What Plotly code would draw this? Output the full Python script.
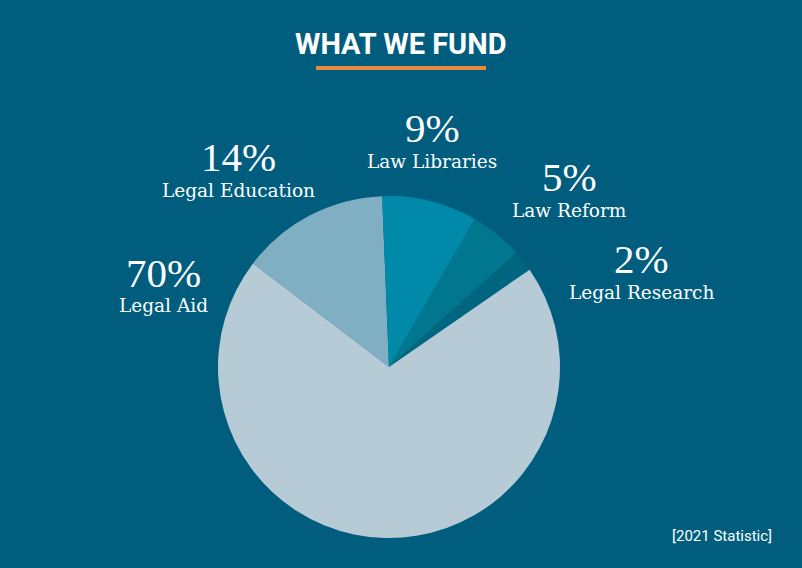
import plotly.graph_objects as go

categories = ["Legal Education", "Law Libraries", "Law Reform", "Legal Research", "Legal Aid"]
values = [14, 9, 5, 2, 70]
colors = ["#80afc3", "#0089a8", "#00778f", "#00667f", "#b6cbd6"]
pct_labels = ["14%", "9%", "5%", "2%", "70%"]
# label anchor points (pixels) for each category
label_x = [239, 432, 569, 641, 163]
label_y = [157, 128, 177, 259, 273]

W, H = 802, 568
BG = "#005d7e"

fig = go.Figure()
fig.add_trace(go.Pie(
    labels=categories, values=values, sort=False, direction="clockwise",
    rotation=-52.7, marker=dict(colors=colors, line=dict(width=0)),
    textinfo="none", hoverinfo="label+percent", showlegend=False,
    domain=dict(x=[(389 - 171) / W, (389 + 171) / W], y=[1 - 538 / H, 1 - 196 / H]),
))

ann = []
for cat, p, x, y in zip(categories, pct_labels, label_x, label_y):
    ann.append(dict(x=x / W, y=1 - y / H, xref="paper", yref="paper", text=p,
                    showarrow=False, xanchor="center", yanchor="middle",
                    font=dict(family="Liberation Serif", size=41, color="white")))
    ann.append(dict(x=x / W, y=1 - (y + 33) / H, xref="paper", yref="paper", text=cat,
                    showarrow=False, xanchor="center", yanchor="middle",
                    font=dict(family="DejaVu Serif", size=18.5, color="white")))

ann.append(dict(x=401 / W, y=1 - 44 / H, xref="paper", yref="paper", text="<b>WHAT WE FUND</b>",
                showarrow=False, xanchor="center", yanchor="middle",
                font=dict(family="Roboto", size=29, color="white")))
ann.append(dict(x=774 / W, y=1 - 536 / H, xref="paper", yref="paper", text="[2021 Statistic]",
                showarrow=False, xanchor="right", yanchor="middle",
                font=dict(family="Roboto", size=15, color="white")))

fig.update_layout(
    width=W, height=H, paper_bgcolor=BG, plot_bgcolor=BG,
    margin=dict(l=0, r=0, t=0, b=0), annotations=ann,
    shapes=[dict(type="line", xref="paper", yref="paper",
                 x0=316 / W, x1=486 / W, y0=1 - 68 / H, y1=1 - 68 / H,
                 line=dict(color="#e88a3c", width=4))],
)
fig.write_html("out.html", config={"displayModeBar": False},
               post_script="document.body.style.margin='0';document.body.style.overflow='hidden';")
